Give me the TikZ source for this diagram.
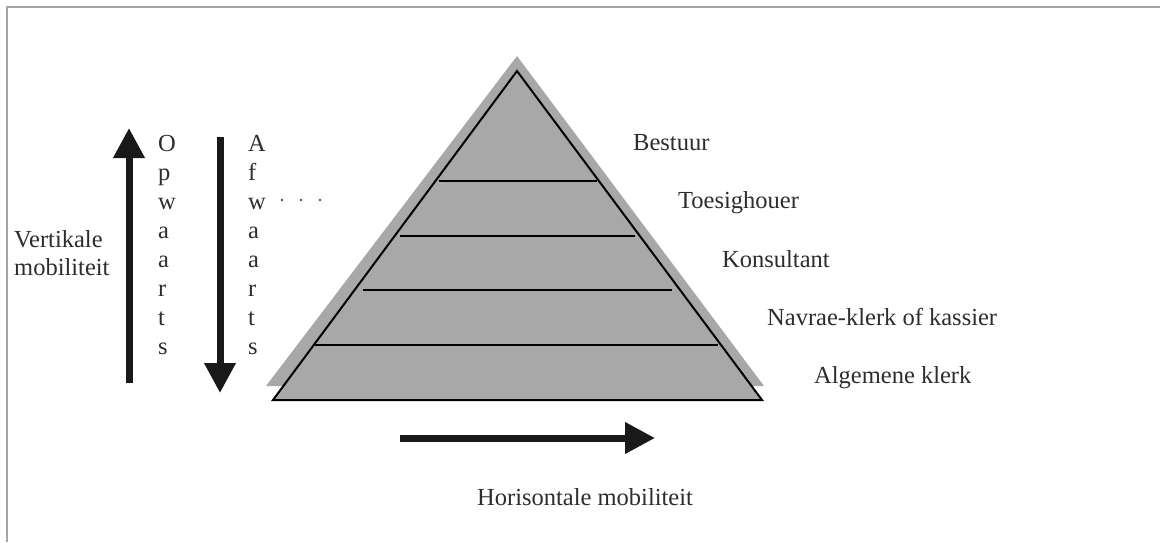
\documentclass[tikz,border=0pt]{standalone}
\usepackage{fontspec}
\setmainfont{Liberation Serif}
\usetikzlibrary{arrows.meta}
\definecolor{pyrgray}{RGB}{168,168,168}
\definecolor{txt}{RGB}{45,45,45}
\definecolor{arr}{RGB}{25,25,25}
\tikzset{
  lbl/.style={anchor=base west, inner sep=0pt, text=txt, font=\fontsize{24.5}{29}\selectfont},
  letter/.style={anchor=base west, inner sep=0pt, text=txt, font=\fontsize{24.5}{29}\selectfont},
  bigarrow/.style={draw=arr, line width=7pt, -{Triangle[width=30pt,length=30pt]}},
  band/.style={draw=black, line width=1.6pt},
}
\begin{document}
\begin{tikzpicture}[x=1pt,y=-1pt]
\useasboundingbox (0,0) rectangle (1160,542);
% frame
\draw[gray!70, line width=1.4pt] (7,542) -- (7,7) -- (1160,7);
% pyramid shadow and body
\fill[pyrgray] (517,56) -- (764,386) -- (266,386) -- cycle;
\draw[fill=pyrgray, line width=2pt] (517,71) coordinate (apex) -- (762,400) coordinate (br) -- (273,400) coordinate (bl) -- cycle;
\draw[band] (439,181) -- (597,181);
\draw[band] (400,236) -- (635,236);
\draw[band] (363,290) -- (672,290);
\draw[band] (315,345) -- (718,345);
% labels on the right
\node[lbl] (bestuur) at (633,150) {Bestuur};
\node[lbl] (toes) at (678,208) {Toesighouer};
\node[lbl] (kons) at (722,267) {Konsultant};
\node[lbl] (navrae) at (767,325) {Navrae-klerk of kassier};
\node[lbl] (alg) at (814,383) {Algemene klerk};
% vertical mobility
\node[lbl] (vert1) at (14,247) {Vertikale};
\node[lbl] (vert2) at (14,275) {mobiliteit};
\coordinate (upS) at (129,383);
\coordinate (upE) at (129,128);
\draw[bigarrow] (upS) -- (upE);
\coordinate (dnS) at (220,137);
\coordinate (dnE) at (220,393);
\draw[bigarrow] (dnS) -- (dnE);
\foreach \l [count=\i] in {O,p,w,a,a,r,t,s}
  \node[letter] (op\i) at (158,{151+29*(\i-1)}) {\l};
\foreach \l [count=\i] in {A,f,w,a,a,r,t,s}
  \node[letter] (af\i) at (248,{151+29*(\i-1)}) {\l};
\coordinate (dotS) at (282,200);
\coordinate (dotE) at (322,200);
\draw[black!70, line width=2.6pt, line cap=round, dash pattern=on 0pt off 19pt] (dotS) -- (dotE);
% horizontal mobility
\coordinate (hS) at (400,438);
\coordinate (hE) at (655,438);
\draw[bigarrow] (hS) -- (hE);
\node[lbl] (hor) at (477,505) {Horisontale mobiliteit};
\end{tikzpicture}
\end{document}
